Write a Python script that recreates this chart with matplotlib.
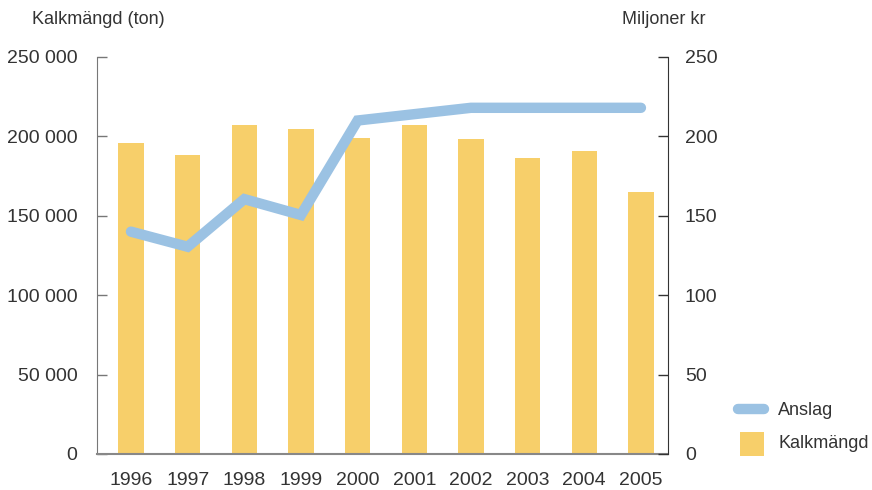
import matplotlib
matplotlib.use("Agg")
from matplotlib import pyplot as plt
from matplotlib.lines import Line2D
from matplotlib.patches import Rectangle

years = ["1996", "1997", "1998", "1999", "2000", "2001", "2002", "2003", "2004", "2005"]
kalkmangd = [196000, 188300, 207200, 204700, 199000, 207200, 198400, 186400, 190800, 165000]  # ton
anslag = [140, 130.5, 160.5, 150.5, 210, 214, 218, 218, 218, 218]  # miljoner kr

plt.rcParams['font.family'] = ['Liberation Sans', 'DejaVu Sans']
txt = '#333333'
bar_col = '#F7CF6A'
line_col = '#9BC2E3'

fig = plt.figure(figsize=(8.72, 4.9), dpi=100)
ax = fig.add_axes([0.1112, 0.0735, 0.655, 0.8102])
x = list(range(len(years)))

ax.bar(x, kalkmangd, width=0.45, color=bar_col, zorder=2)
ax.set_ylim(0, 250000)
ax.set_xlim(-0.6, 9.48)
ax.set_yticks([0, 50000, 100000, 150000, 200000, 250000])
ax.set_yticklabels(['0', '50 000', '100 000', '150 000', '200 000', '250 000'])
ax.set_xticks(x)
ax.set_xticklabels(years)
ax.tick_params(axis='y', direction='in', length=7, width=1, color='#777777',
               labelsize=14, labelcolor=txt, pad=14)
ax.tick_params(axis='x', length=0, labelsize=14, labelcolor=txt, pad=13)
ax.spines['top'].set_visible(False)
ax.spines['right'].set_visible(False)
ax.spines['left'].set_color('#777777')
ax.spines['bottom'].set_color('#888888')
ax.spines['bottom'].set_linewidth(1.5)

ax2 = ax.twinx()
ax2.plot(x, anslag, color=line_col, linewidth=7.5, solid_capstyle='round',
         solid_joinstyle='miter', zorder=3)
ax2.set_ylim(0, 250)
ax2.set_yticks([0, 50, 100, 150, 200, 250])
ax2.tick_params(axis='y', direction='in', length=7, width=1, color='#333333',
                labelsize=14, labelcolor=txt, pad=12)
for s in ['top', 'left', 'bottom']:
    ax2.spines[s].set_visible(False)
ax2.spines['right'].set_color('#333333')

fig.text(32 / 872, 1 - 19 / 490, 'Kalkmängd (ton)', fontsize=13, color=txt, va='center', ha='left')
fig.text(622 / 872, 1 - 19 / 490, 'Miljoner kr', fontsize=13, color=txt, va='center', ha='left')

# legend drawn by hand in figure pixels
W, H = 872, 490
fig.add_artist(Line2D([738 / W, 764 / W], [1 - 409 / H, 1 - 409 / H], color=line_col,
                      linewidth=7.5, solid_capstyle='round', transform=fig.transFigure))
fig.add_artist(Rectangle((740 / W, 1 - 456 / H), 24 / W, 24 / H, facecolor=bar_col,
                         edgecolor='none', transform=fig.transFigure))
fig.text(778 / W, 1 - 410 / H, 'Anslag', fontsize=13, color=txt, va='center', ha='left')
fig.text(778 / W, 1 - 443 / H, 'Kalkmängd', fontsize=13, color=txt, va='center', ha='left')

fig.savefig('out.png', dpi=100)
